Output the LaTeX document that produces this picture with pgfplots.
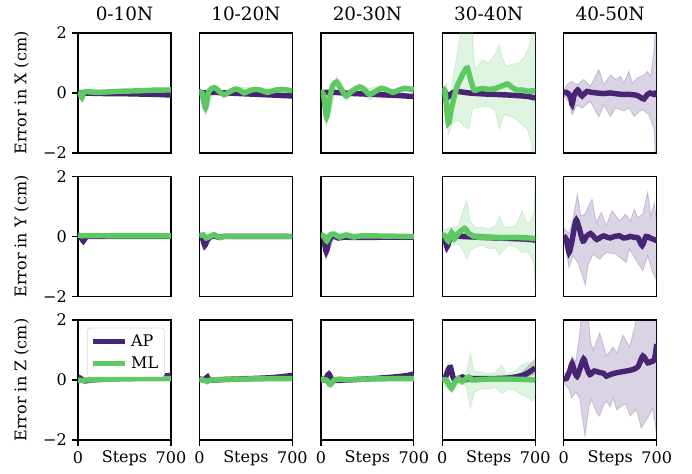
\documentclass[border=0pt]{standalone}
\usepackage{pgfplots}
\pgfplotsset{compat=1.18}
\usepgfplotslibrary{groupplots}
\usepackage{fontspec}
\setmainfont{DejaVu Serif}
\definecolor{ap}{RGB}{72,36,117}
\definecolor{ml}{RGB}{94,201,98}
\pgfplotsset{
  panel/.style={width=58.1pt, height=75pt, scale only axis,
    xmin=0, xmax=700, ymin=-2, ymax=2, xtick=\empty, ytick=\empty,
    axis line style={line width=0.8pt}, tick style={black, line width=0.8pt},
    tick align=outside, major tick length=3.5pt, tick pos=left,
    every axis title shift=0pt,
    tick label style={font=\fontsize{10}{12}\selectfont},
    title style={font=\fontsize{11.5}{14}\selectfont, at={(axis description cs:0.5,1)}, anchor=base, yshift=8pt},
    label style={font=\fontsize{10}{12}\selectfont}},
  leftcol/.style={ytick={-2,0,2}, yticklabels={−2,0,2},
    ylabel style={at={(axis description cs:-0.607,0.5)}, anchor=center}},
  bottomrow/.style={xtick={0,700}, xticklabels={0,700}, xlabel={Steps},
    xlabel style={at={(axis description cs:0.5,-0.186)}, anchor=base}},
  apl/.style={ap, line width=3.4pt, smooth, tension=0.45},
  mll/.style={ml, line width=3.4pt, smooth, tension=0.45},
  apb/.style={fill=ap, fill opacity=0.2, draw=ap, draw opacity=0.2, line width=0.6pt, forget plot},
  mlb/.style={fill=ml, fill opacity=0.2, draw=ml, draw opacity=0.2, line width=0.6pt, forget plot},
}
\begin{document}
\begin{tikzpicture}
\begin{groupplot}[group style={group name=G, group size=5 by 3, horizontal sep=17.8pt, vertical sep=14.7pt}, panel]
% ---------------- Row 1: X ----------------
\nextgroupplot[leftcol, title={0-10N}, ylabel={Error in X (cm)}]
\addplot[mlb] coordinates {(0,0.1)(30,0.0)(45,0.1)(300,0.1)(700,0.15)(700,0.05)(300,0.0)(45,-0.05)(30,-0.3)(0,-0.05)} -- cycle;
\addplot[apl] coordinates {(0,0)(100,-0.01)(200,-0.02)(300,-0.02)(400,-0.03)(500,-0.04)(600,-0.05)(700,-0.07)};
\addplot[mll] coordinates {(0,0.02)(15,-0.05)(30,-0.15)(45,0.03)(80,0.04)(150,0.02)(250,0.04)(350,0.06)(450,0.07)(550,0.09)(700,0.1)};
\nextgroupplot[title={10-20N}]
\addplot[mlb] coordinates {(0,0.08)(45,-0.3)(112,0.25)(187,0.0)(270,0.2)(700,0.12)(700,0.02)(270,0.06)(187,-0.12)(112,0.1)(45,-0.75)(0,-0.05)} -- cycle;
\addplot[apl] coordinates {(0,0)(40,0)(100,0.02)(200,0)(300,-0.02)(400,-0.04)(500,-0.06)(600,-0.08)(700,-0.1)};
\addplot[mll] coordinates {(0,0.02)(20,0)(45,-0.5)(70,0.05)(112,0.18)(150,0.05)(187,-0.06)(230,0.05)(270,0.13)(300,0.1)(337,0.0)(380,0.08)(425,0.12)(470,0.08)(512,0.02)(560,0.08)(612,0.12)(660,0.1)(700,0.07)};
\nextgroupplot[title={20-30N}]
\addplot[mlb] coordinates {(0,0.1)(43,-0.5)(119,0.55)(190,0.05)(291,0.3)(366,0.15)(455,0.25)(543,0.1)(632,0.25)(700,0.18)(700,0.02)(632,0.05)(543,-0.05)(455,0.05)(366,-0.25)(291,0.1)(190,-0.25)(119,0.2)(43,-1.1)(0,-0.05)} -- cycle;
\addplot[apl] coordinates {(0,0)(50,0.02)(100,0.02)(200,-0.01)(300,-0.03)(400,-0.05)(500,-0.07)(600,-0.09)(700,-0.12)};
\addplot[mll] coordinates {(0,0.02)(20,-0.05)(43,-0.8)(70,-0.1)(90,0.25)(119,0.37)(150,0.15)(190,-0.1)(230,0.05)(291,0.2)(330,0.1)(366,-0.05)(410,0.05)(455,0.15)(500,0.1)(543,0.02)(590,0.1)(632,0.15)(670,0.13)(700,0.1)};
\nextgroupplot[title={30-40N}]
\addplot[mlb] coordinates {(0,0.2)(30,0.3)(45,-0.6)(80,0.5)(120,1.5)(150,2.5)(220,2.5)(240,1.0)(252,0.8)(300,1.1)(350,1.0)(400,1.3)(428,1.6)(450,1.2)(478,0.9)(520,0.95)(580,1.0)(617,1.2)(660,1.6)(690,2.5)(700,2.5)(700,-2.5)(690,-2.5)(670,-1.6)(640,-1.2)(604,-1.07)(560,-0.9)(530,-0.8)(500,-0.8)(470,-0.7)(450,-0.9)(428,-1.2)(400,-0.6)(350,-0.45)(300,-0.45)(264,-0.5)(240,-0.5)(226,-0.55)(200,-1.2)(163,-1.1)(120,-0.9)(80,-1.0)(45,-1.4)(30,-0.3)(0,-0.2)} -- cycle;
\addplot[apl] coordinates {(0,0.05)(20,0.05)(40,-0.15)(60,-0.05)(100,0.05)(150,0.03)(200,0.0)(300,-0.03)(400,-0.05)(500,-0.07)(600,-0.1)(650,-0.12)(700,-0.17)};
\addplot[mll] coordinates {(0,0.0)(20,0.05)(45,-1.0)(70,-0.5)(106,0.15)(140,0.5)(170,0.75)(189,0.83)(210,0.5)(239,0.1)(270,0.12)(300,0.15)(350,0.12)(400,0.15)(428,0.2)(460,0.25)(491,0.3)(520,0.2)(560,0.1)(600,0.1)(650,0.05)(680,0.08)(700,0.02)};
\nextgroupplot[title={40-50N}]
\addplot[apb] coordinates {(0,0.1)(30,0.3)(63,0.39)(85,0.3)(106,0.28)(151,0.45)(201,0.22)(264,0.78)(302,0.28)(352,0.6)(390,0.45)(428,0.55)(453,0.33)(491,0.72)(516,0.33)(554,0.5)(604,0.6)(630,0.72)(655,0.55)(680,1.44)(700,3)(700,-3)(680,-1.22)(642,-0.72)(592,-0.55)(529,-0.78)(491,-0.5)(453,-0.6)(390,-0.5)(352,-0.78)(302,-0.4)(264,-0.8)(201,-0.28)(138,-0.5)(100,-0.4)(63,-0.72)(40,-0.3)(0,-0.1)} -- cycle;
\addplot[apl] coordinates {(0,0.0)(20,0.02)(40,-0.05)(55,-0.2)(63,-0.38)(80,-0.05)(106,0.1)(125,-0.05)(138,-0.1)(160,0.0)(175,0.05)(210,0.02)(250,0.0)(300,-0.02)(350,0.0)(400,-0.03)(450,-0.05)(500,-0.05)(550,-0.08)(580,-0.15)(604,-0.2)(630,-0.05)(650,0.0)(680,-0.05)(700,0.05)};
% ---------------- Row 2: Y ----------------
\nextgroupplot[leftcol, ylabel={Error in Y (cm)}]
\addplot[apl] coordinates {(0,0.02)(20,0.0)(40,-0.15)(60,-0.02)(100,0.0)(700,0.0)};
\addplot[mll] coordinates {(0,0.05)(30,0.02)(60,0.03)(300,0.02)(700,0.02)};
\nextgroupplot
\addplot[apb] coordinates {(0,0.05)(40,-0.15)(100,0.05)(700,0.02)(700,-0.02)(100,-0.02)(40,-0.45)(0,-0.02)} -- cycle;
\addplot[apl] coordinates {(0,0.02)(20,0.0)(40,-0.3)(60,-0.1)(100,0.02)(150,-0.03)(200,0.0)(700,0.0)};
\addplot[mll] coordinates {(0,0.03)(30,0.05)(50,-0.05)(80,0.0)(110,0.06)(150,-0.03)(200,0.02)(250,0.0)(700,0.0)};
\nextgroupplot
\addplot[apb] coordinates {(0,0.1)(20,0.1)(40,-0.2)(100,0.05)(700,0.02)(700,-0.04)(100,-0.03)(40,-0.75)(20,-0.1)(0,-0.05)} -- cycle;
\addplot[mlb] coordinates {(0,0.15)(45,0.05)(100,0.12)(700,0.03)(700,-0.03)(100,0.0)(45,-0.3)(0,-0.05)} -- cycle;
\addplot[apl] coordinates {(0,0.02)(20,0.0)(40,-0.5)(60,-0.15)(90,0.02)(130,-0.05)(180,-0.02)(250,-0.03)(700,-0.02)};
\addplot[mll] coordinates {(0,0.05)(25,0.0)(45,-0.15)(70,0.05)(100,0.08)(140,-0.02)(190,0.05)(250,-0.02)(320,0.02)(700,0.0)};
\nextgroupplot
\addplot[apb] coordinates {(0,0.1)(35,-0.2)(70,0.15)(700,-0.05)(700,-0.2)(70,-0.05)(35,-0.55)(0,-0.1)} -- cycle;
\addplot[mlb] coordinates {(0,0.2)(60,0.3)(120,0.35)(160,0.9)(185,1.2)(210,0.5)(250,0.3)(300,0.3)(350,0.25)(400,0.35)(430,0.69)(460,0.35)(500,0.3)(550,0.35)(580,0.6)(600,0.88)(630,0.5)(660,0.45)(690,0.8)(700,2.0)(700,-1.9)(690,-0.9)(660,-0.6)(630,-0.5)(600,-0.55)(560,-0.35)(500,-0.3)(460,-0.45)(430,-0.62)(400,-0.4)(350,-0.4)(300,-0.3)(250,-0.35)(210,-0.45)(185,-0.76)(160,-0.5)(120,-0.25)(60,-0.3)(35,-0.5)(0,-0.15)} -- cycle;
\addplot[apl] coordinates {(0,0.0)(20,-0.05)(35,-0.35)(55,-0.1)(70,0.05)(100,0.02)(150,0.0)(250,-0.02)(350,-0.04)(450,-0.05)(550,-0.07)(650,-0.09)(700,-0.12)};
\addplot[mll] coordinates {(0,0.05)(20,0.03)(45,-0.15)(70,0.13)(90,-0.08)(120,0.1)(167,0.27)(200,0.1)(230,0.02)(280,-0.03)(350,-0.02)(450,-0.04)(550,-0.03)(650,-0.05)(700,-0.07)};
\nextgroupplot
\addplot[apb] coordinates {(0,0.3)(8,0.24)(40,0.1)(70,0.6)(103,1.41)(128,0.69)(158,0.74)(213,1.24)(245,0.47)(283,0.8)(320,0.36)(365,0.86)(420,0.52)(465,0.74)(502,0.52)(532,0.91)(557,0.63)(595,0.74)(632,1.47)(657,0.69)(682,1.13)(700,0.47)(700,-1.48)(670,-1.2)(632,-0.64)(595,-1.14)(557,-0.87)(495,-0.42)(470,-0.87)(395,-0.59)(320,-0.53)(270,-0.76)(220,-0.59)(182,-0.98)(163,-1.62)(107,-0.87)(70,-0.64)(40,-1.03)(20,-0.5)(0,-0.2)} -- cycle;
\addplot[apl] coordinates {(0,0.02)(20,-0.1)(40,-0.53)(60,-0.2)(80,0.3)(95,0.55)(115,0.3)(145,-0.15)(170,0.0)(202,0.1)(225,0.0)(250,-0.1)(280,-0.02)(300,0.02)(330,-0.03)(350,-0.05)(380,0.0)(420,0.02)(450,-0.05)(480,-0.03)(500,0.0)(530,-0.03)(560,-0.05)(590,-0.3)(620,0.0)(650,-0.05)(680,-0.1)(700,-0.15)};
% ---------------- Row 3: Z ----------------
\nextgroupplot[leftcol, bottomrow, ylabel={Error in Z (cm)},
  legend style={at={(axis description cs:0.097,0.936)}, anchor=north west, draw=black!15, rounded corners=2pt, fill=white, font=\fontsize{10}{12}\selectfont, row sep=1pt, inner sep=2pt},
  legend cell align=left, legend image code/.code={\draw[#1] (0pt,0pt) -- (20pt,0pt);}]
\addplot[apl] coordinates {(0,0.1)(20,0.05)(50,-0.03)(100,0.0)(200,0.03)(300,0.06)(400,0.08)(500,0.1)(600,0.12)(700,0.15)};
\addlegendentry{AP}
\addplot[mll] coordinates {(0,0.0)(30,-0.02)(60,0.0)(200,0.02)(400,0.04)(700,0.05)};
\addlegendentry{ML}
\nextgroupplot[bottomrow]
\addplot[apl] coordinates {(0,0.05)(30,0.0)(60,0.1)(80,0.0)(200,0.02)(400,0.05)(550,0.08)(700,0.15)};
\addplot[mll] coordinates {(0,0.02)(30,0.0)(60,-0.05)(90,0.0)(300,0.03)(700,0.05)};
\nextgroupplot[bottomrow]
\addplot[apl] coordinates {(0,0.05)(30,0.0)(60,0.2)(90,0.0)(200,0.0)(400,0.05)(550,0.1)(650,0.15)(700,0.2)};
\addplot[mll] coordinates {(0,0.02)(40,0.0)(70,-0.15)(100,0.0)(150,0.03)(200,0.0)(300,0.03)(700,0.05)};
\nextgroupplot[bottomrow]
\addplot[apb] coordinates {(0,0.1)(62,0.5)(100,0.05)(500,0.1)(600,0.25)(700,0.7)(700,0.2)(600,0.05)(500,0.03)(100,-0.1)(62,0.3)(0,0.0)} -- cycle;
\addplot[mlb] coordinates {(0,0.1)(70,-0.1)(120,0.15)(180,0.2)(212,0.89)(240,0.3)(300,0.25)(350,0.2)(400,0.25)(450,0.5)(480,0.2)(550,0.3)(600,0.5)(650,0.6)(700,0.55)(700,-0.5)(675,-0.72)(650,-0.6)(600,-0.5)(550,-0.35)(500,-0.3)(450,-0.45)(400,-0.25)(350,-0.3)(300,-0.3)(240,-0.4)(212,-0.94)(180,-0.2)(120,-0.1)(70,-0.4)(0,-0.1)} -- cycle;
\addplot[apl] coordinates {(0,0.05)(20,0.05)(45,0.35)(62,0.42)(80,0.1)(100,-0.02)(130,0.05)(150,0.1)(180,0.02)(200,0.05)(250,0.05)(400,0.05)(500,0.07)(550,0.1)(600,0.15)(630,0.2)(660,0.28)(700,0.4)};
\addplot[mll] coordinates {(0,0.0)(30,0.0)(50,-0.15)(70,-0.28)(90,-0.1)(120,0.05)(150,-0.05)(180,0.05)(200,0.1)(225,0.0)(250,0.0)(300,0.02)(400,0.03)(500,0.03)(600,0.02)(700,0.0)};
\nextgroupplot[bottomrow]
\addplot[apb] coordinates {(0,0.2)(30,0.3)(63,0.8)(90,0.6)(120,1.5)(138,2.5)(180,2.5)(200,1.3)(222,1.0)(271,1.57)(321,0.8)(371,1.1)(400,0.9)(446,1.5)(496,1.1)(533,1.74)(571,2.5)(700,2.5)(700,-1.9)(690,-1.5)(670,-0.95)(640,-1.2)(583,-1.6)(550,-1.0)(520,-1.1)(500,-1.2)(470,-0.8)(440,-0.85)(400,-1.0)(370,-0.6)(350,-0.9)(321,-0.7)(296,-0.87)(270,-1.2)(250,-1.1)(209,-0.65)(190,-0.9)(160,-1.87)(120,-0.6)(90,-0.4)(60,-0.6)(40,-0.3)(0,-0.1)} -- cycle;
\addplot[apl] coordinates {(0,0.05)(20,0.05)(45,0.3)(63,0.55)(80,0.3)(100,0.12)(120,0.35)(150,0.7)(170,0.45)(197,0.18)(230,0.3)(270,0.25)(300,0.22)(321,0.13)(350,0.18)(396,0.24)(471,0.3)(521,0.35)(560,0.45)(596,0.8)(633,0.57)(660,0.62)(683,0.68)(700,1.2)};
\end{groupplot}
\pgfresetboundingbox
\path ([shift={(-48.75pt,20.6pt)}]G c1r1.north west) rectangle ++(432.5pt,-296.25pt);
\end{tikzpicture}
\end{document}
